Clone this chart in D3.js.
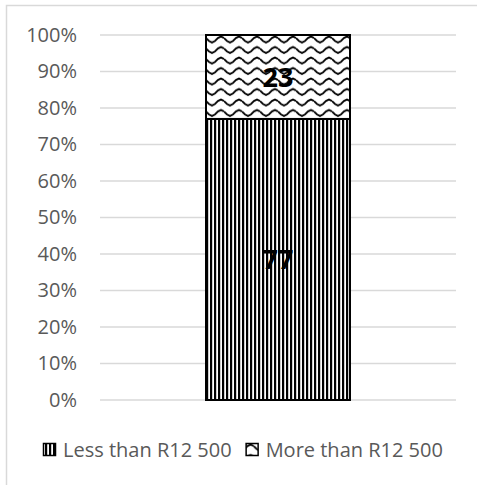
<!DOCTYPE html>
<html>
<head>
<meta charset="utf-8">
<script src="https://cdn.jsdelivr.net/npm/d3@7"></script>
<style>
  html, body { margin: 0; padding: 0; background: #fff; }
  svg { display: block; }
</style>
</head>
<body>
<svg id="chart" width="477" height="485"></svg>
<script>
// Income split (percent of respondents), one stacked column
const categories = ["Less than R12 500", "More than R12 500"];
const shares = [77, 23];
const tickValues = [0, 10, 20, 30, 40, 50, 60, 70, 80, 90, 100];
const tickLabels = tickValues.map(v => v + "%");

const W = 477, H = 485;
const margin = { left: 100, right: 21, top: 35, bottom: 85 };
const svg = d3.select("#chart");
const defs = svg.append("defs");

// Fill patterns: dark vertical stripes and waves
const stripes = defs.append("pattern")
  .attr("id", "pat-vert").attr("patternUnits", "userSpaceOnUse")
  .attr("width", 4).attr("height", 4).attr("x", 206);
stripes.append("rect").attr("width", 4).attr("height", 4).attr("fill", "#fff");
stripes.append("rect").attr("width", 2.2).attr("height", 4).attr("fill", "#000");

const wave = defs.append("pattern")
  .attr("id", "pat-wave").attr("patternUnits", "userSpaceOnUse")
  .attr("width", 18).attr("height", 10.5).attr("x", 206).attr("y", 35);
wave.append("rect").attr("width", 18).attr("height", 10.5).attr("fill", "#fff");
wave.append("path")
  .attr("d", "M0,3 L3,6 L6,7.5 L9,6 L12,3 L15,1.5 L18,3")
  .attr("fill", "none").attr("stroke", "#000").attr("stroke-width", 1.8);

const fills = ["url(#pat-vert)", "url(#pat-wave)"];

// Outer chart frame (runs off the right and bottom edges)
svg.append("rect")
  .attr("x", 6.5).attr("y", 5.5).attr("width", 500).attr("height", 500)
  .attr("fill", "none").attr("stroke", "#d9d9d9").attr("stroke-width", 1.5);

const x = d3.scaleBand().domain([""]).range([margin.left, W - margin.right]).padding(0.424);
const y = d3.scaleLinear().domain([0, 100]).range([H - margin.bottom, margin.top]);

// Gridlines
svg.append("g").selectAll("line").data(tickValues).join("line")
  .attr("x1", margin.left).attr("x2", W - margin.right)
  .attr("y1", d => y(d)).attr("y2", d => y(d))
  .attr("stroke", "#d9d9d9").attr("stroke-width", 1.5);

// Y axis labels
const yAxis = d3.axisLeft(y).tickValues(tickValues)
  .tickFormat((d, i) => tickLabels[i]).tickSize(0).tickPadding(23);
const gy = svg.append("g").attr("transform", `translate(${margin.left},0)`).call(yAxis);
gy.select(".domain").remove();
gy.selectAll("text")
  .attr("font-family", "'Open Sans', sans-serif").attr("font-size", 20)
  .attr("fill", "#595959");

// Stacked column
const row = { group: "" };
categories.forEach((c, i) => row[c] = shares[i]);
const series = d3.stack().keys(categories)([row]);

const segs = svg.append("g").selectAll("g").data(series).join("g");
segs.append("rect")
  .attr("x", x(""))
  .attr("width", x.bandwidth())
  .attr("y", d => y(d[0][1]))
  .attr("height", d => y(d[0][0]) - y(d[0][1]))
  .attr("fill", (d, i) => fills[i])
  .attr("stroke", "#000").attr("stroke-width", 2);

// Value labels
segs.append("text")
  .attr("x", x("") + x.bandwidth() / 2)
  .attr("y", d => y((d[0][0] + d[0][1]) / 2))
  .attr("dy", "0.36em")
  .attr("text-anchor", "middle")
  .attr("font-family", "'Open Sans', sans-serif").attr("font-weight", "bold")
  .attr("font-size", 27).attr("fill", "#000")
  .text((d, i) => shares[i]);

// Legend
const legend = svg.append("g").attr("transform", "translate(43,450)");
let cx = 0;
categories.forEach((c, i) => {
  const item = legend.append("g").attr("transform", `translate(${cx},0)`);
  item.append("rect").attr("x", 0.5).attr("y", -6.5).attr("width", 12).attr("height", 12)
    .attr("fill", fills[i]).attr("stroke", "#000").attr("stroke-width", 1.5);
  const t = item.append("text").attr("x", 20).attr("y", 0).attr("dy", "0.35em")
    .attr("font-family", "'Open Sans', sans-serif").attr("font-size", 20)
    .attr("fill", "#595959").text(c);
  cx += 20 + t.node().getComputedTextLength() + 14;
});
</script>
</body>
</html>
